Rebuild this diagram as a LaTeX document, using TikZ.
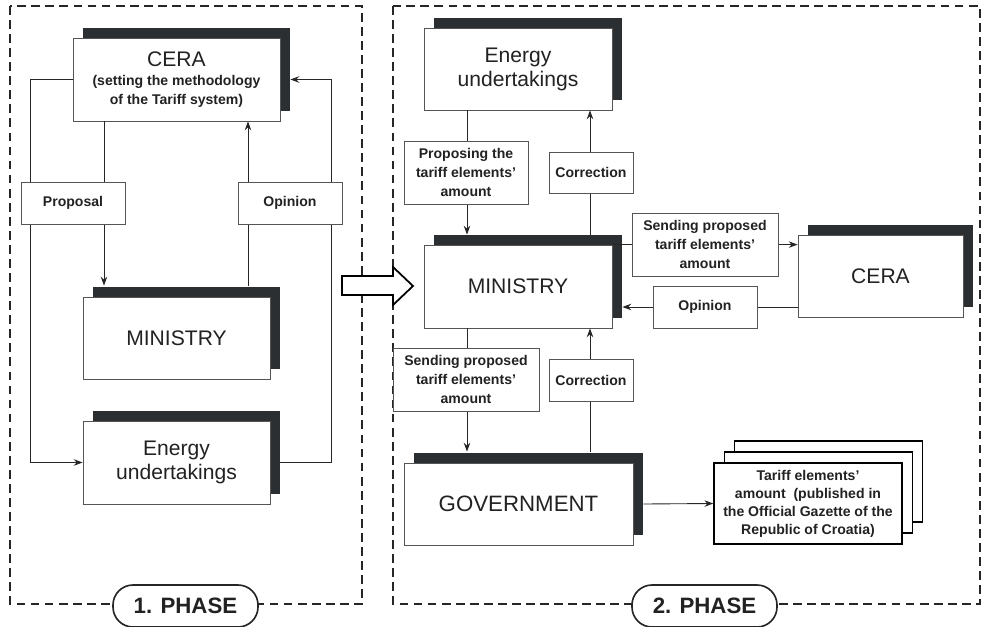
\documentclass[tikz,border=0pt]{standalone}
\usepackage{fontspec}
\setmainfont{Liberation Sans}
\usetikzlibrary{shadows,calc,arrows.meta}
\definecolor{shd}{HTML}{2B2F31}
\definecolor{txt}{HTML}{222222}
\definecolor{edge}{HTML}{555555}
\begin{document}
\begin{tikzpicture}[x=0.03cm,y=-0.03cm,
 frame/.style={draw=black!85, line width=1.4pt, dash pattern=on 7.5pt off 4.5pt},
 mainbox/.style 2 args={draw=edge, line width=0.7pt, fill=white, text=txt,
   minimum width=#1*0.03cm, minimum height=#2*0.03cm, inner sep=0pt, align=center,
   font=\fontsize{18}{20.5}\selectfont,
   drop shadow={shadow xshift=0.3cm, shadow yshift=0.3cm, fill=shd, opacity=1}},
 lbl/.style 2 args={draw=edge, line width=0.7pt, fill=white, text=txt,
   minimum width=#1*0.03cm, minimum height=#2*0.03cm, inner sep=0pt, align=center,
   font=\bfseries\fontsize{12}{16.5}\selectfont},
 docstack/.style={draw=black, line width=1.3pt, fill=white, text=txt,
   minimum width=188*0.03cm, minimum height=81*0.03cm, inner sep=0pt, align=center,
   font=\bfseries\fontsize{12}{15.4}\selectfont,
   double copy shadow={shadow xshift=0.31cm, shadow yshift=0.33cm}},
 conn/.style={draw=black!85, line width=0.75pt},
 arr/.style={conn, -{Stealth[length=7.5pt,width=5.5pt]}},
 phase/.style={draw=black!85, line width=1.4pt, fill=white, rounded corners=0.6cm,
   minimum width=145*0.03cm, minimum height=42*0.03cm,
   font=\bfseries\fontsize{19}{22}\selectfont, text=txt},
]
\path[use as bounding box] (0,0) rectangle (981,627);
\fill[white] (0,0) rectangle (981,627);

% frames
\draw[frame] (10,6) rectangle (362,604);
\draw[frame] (393,6) rectangle (980,604);

% big hollow arrow
\draw[line width=1.5pt, fill=white] (342,276) -- (393,276) -- (393,267) -- (413,286)
  -- (393,305) -- (393,295) -- (342,295) -- cycle;

% ---------- phase 1 main boxes ----------
\node[mainbox={207}{83}, font=\bfseries\fontsize{12}{15.4}\selectfont] (lcera) at (176.5,79.5)
  {\raisebox{-3pt}{\mdseries\fontsize{18}{20.5}\selectfont CERA}\\[4pt](setting the methodology\\of the Tariff system)};
\node[mainbox={187}{82}] (lmin) at (176.5,338) {MINISTRY};
\node[mainbox={187}{83}] (lenergy) at (176.5,462.5) {Energy\\undertakings};

% ---------- phase 2 main boxes ----------
\node[mainbox={188}{82}] (renergy) at (518,69) {Energy\\undertakings};
\node[mainbox={188}{83}] (rmin) at (518,286.5) {MINISTRY};
\node[mainbox={165}{82}] (rcera) at (880.5,276) {CERA};
\node[mainbox={229}{82}, font=\fontsize{19}{22}\selectfont] (gov) at (518.5,504) {GOVERNMENT};
\node[docstack] (tariff) at (808,503.5)
  {Tariff elements'\\amount\ \ (published in\\the Official Gazette of the\\Republic of Croatia)};

% ---------- connectors phase 1 ----------
\coordinate (xp) at (104,0);
\coordinate (xo) at (248,0);
\coordinate (xr) at (331,0);
\draw[arr] (lcera.west) -- ++(-42,0) |- (lenergy.west);
\draw[arr] (lcera.south -| xp) -- ($(lmin.north -| xp)+(0,-11)$);
\draw[arr] ($(lmin.north -| xo)+(0,-11)$) -- (lcera.south -| xo);
\draw[arr] ($(lenergy.east)+(10,0)$) -- (lenergy.east -| xr) -- (lcera.east -| xr) -- ($(lcera.east)+(10,0)$);

% ---------- connectors phase 2 ----------
\coordinate (xa) at (467,0);
\coordinate (xb) at (590,0);
\coordinate (yo) at (0,307);
\draw[arr] (renergy.south -| xa) -- ($(rmin.north -| xa)+(0,-10)$);
\draw[arr] ($(rmin.north -| xb)+(0,-10)$) -- (renergy.south -| xb);
\draw[arr] (rmin.north east) -- (rmin.north east -| rcera.west);
\draw[arr] (rcera.west |- yo) -- ($(rmin.east |- yo)+(10,0)$);
\draw[arr] (rmin.south -| xa) -- ($(gov.north -| xa)+(0,-11)$);
\draw[arr] ($(gov.north -| xb)+(0,-11)$) -- (rmin.south -| xb);
\draw[arr] ($(gov.east)+(10,0)$) -- (tariff.west);

% ---------- labels ----------
\node[lbl={104}{42}] (lprop) at (73,203) {Proposal};
\node[lbl={104}{42}] (lop) at (290,203) {Opinion};
\node[lbl={124}{63}] (propo) at (466,172.5) {Proposing the\\tariff elements'\\amount};
\node[lbl={84}{41}] (cor1) at (591,172.5) {Correction};
\node[lbl={146}{63}] (send1) at (705,244.5) {Sending proposed\\tariff elements'\\amount};
\node[lbl={104}{42}] (op2) at (705,307) {Opinion};
\node[lbl={146}{63}] (send2) at (466,379.5) {Sending proposed\\tariff elements'\\amount};
\node[lbl={84}{42}] (cor2) at (591,380) {Correction};

% ---------- phases ----------
\node[phase] (ph1) at (185.5,606) {1. PHASE};
\node[phase] (ph2) at (704.5,606) {2. PHASE};
\end{tikzpicture}
\end{document}
